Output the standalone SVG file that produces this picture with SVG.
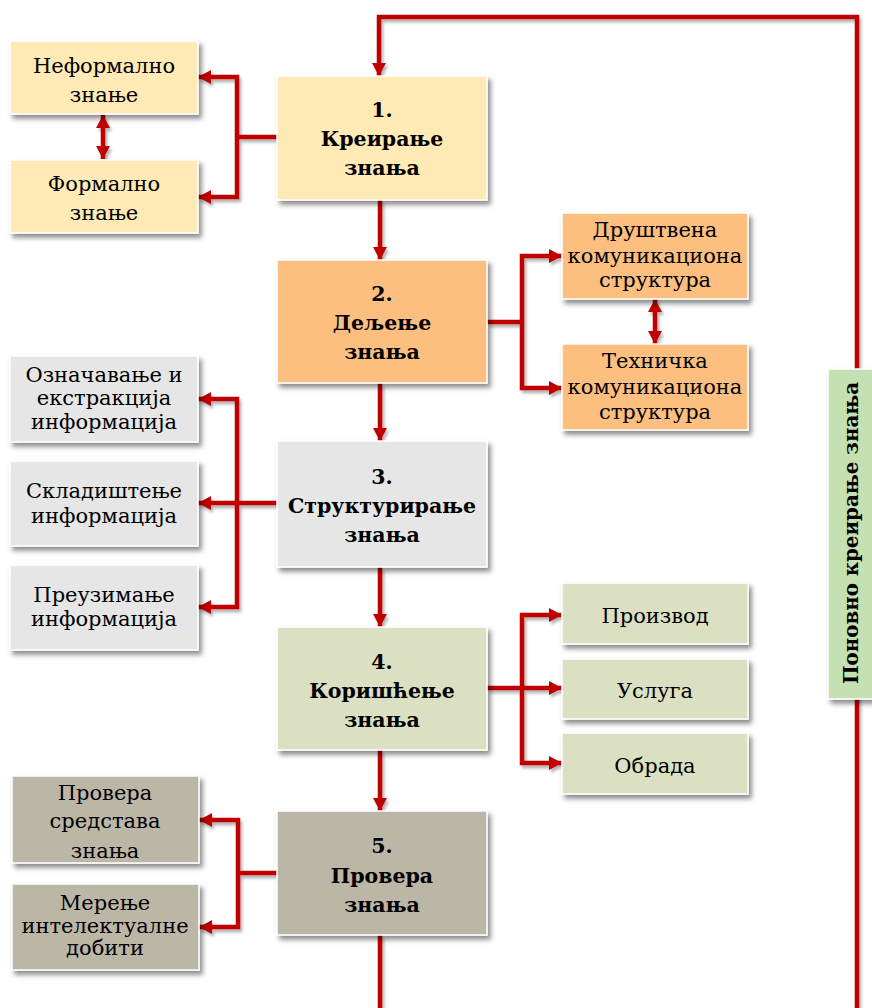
<svg xmlns="http://www.w3.org/2000/svg" width="872" height="1008" viewBox="0 0 872 1008">
  <defs>
    <filter id="sh" x="-10%" y="-10%" width="130%" height="130%">
      <feDropShadow dx="3" dy="4" stdDeviation="2.5" flood-color="#000" flood-opacity="0.45"/>
    </filter>
    <filter id="lsh" x="-10%" y="-10%" width="130%" height="130%">
      <feDropShadow dx="2" dy="3" stdDeviation="1.5" flood-color="#000" flood-opacity="0.3"/>
    </filter>
    <marker id="ah" markerUnits="userSpaceOnUse" markerWidth="14" markerHeight="14" refX="13" refY="7" orient="auto-start-reverse">
      <path d="M0,0 L13,7 L0,14 Z" fill="#C00000"/>
    </marker>
    <style>
      .box { stroke: #ffffff; stroke-width: 1.5; filter: url(#sh); }
      .y { fill: #FFEAB5; }
      .o { fill: #FDBF80; }
      .g { fill: #E6E6E6; }
      .l { fill: #DCE0C3; }
      .k { fill: #BCB6A7; }
      .s { fill: #C5E0B3; }
      .c { fill: none; stroke: #C00000; stroke-width: 4.5; }
      .a { marker-end: url(#ah); }
      .aa { marker-start: url(#ah); marker-end: url(#ah); }
      text { font-family: "DejaVu Serif", "Liberation Serif", serif; font-size: 21px; text-anchor: middle; fill: #000; }
      .b { font-weight: bold; font-size: 20.5px; }
    </style>
  </defs>

  <!-- connectors -->
  <g id="connectors" filter="url(#lsh)">
    <!-- feedback loop back to step 1 -->
    <path class="c a" d="M380,935 V1014 H857 V17 H379 V76"/>
    <!-- main chain -->
    <path class="c a" d="M380,200 V260"/>
    <path class="c a" d="M380,383 V441"/>
    <path class="c a" d="M380,567 V627"/>
    <path class="c a" d="M380,750 V811"/>
    <!-- step 1 branches -->
    <path class="c" d="M277,137 H237"/>
    <path class="c aa" d="M198,77 H237 V197 H198"/>
    <path class="c aa" d="M103,115 V159"/>
    <!-- step 2 branches -->
    <path class="c" d="M487,322 H522"/>
    <path class="c aa" d="M562,256 H522 V388 H562"/>
    <path class="c aa" d="M655,299 V344"/>
    <!-- step 3 branches -->
    <path class="c a" d="M277,503 H198"/>
    <path class="c aa" d="M198,399 H237 V607 H198"/>
    <!-- step 4 branches -->
    <path class="c a" d="M487,688 H562"/>
    <path class="c aa" d="M562,615 H522 V763 H562"/>
    <!-- step 5 branches -->
    <path class="c" d="M277,873 H238"/>
    <path class="c aa" d="M199,820 H238 V927 H199"/>
  </g>

  <!-- step 1 -->
  <g id="step1">
    <rect class="box y" x="277" y="76" width="210" height="124"/>
    <text class="b" x="382" y="117">1.</text>
    <text class="b" x="382" y="146">Креирање</text>
    <text class="b" x="382" y="175">знања</text>
  </g>
  <g id="informal">
    <rect class="box y" x="10" y="41" width="188" height="73"/>
    <text x="104" y="73">Неформално</text>
    <text x="104" y="102">знање</text>
  </g>
  <g id="formal">
    <rect class="box y" x="10" y="160" width="188" height="73"/>
    <text x="104" y="191">Формално</text>
    <text x="104" y="220">знање</text>
  </g>

  <!-- step 2 -->
  <g id="step2">
    <rect class="box o" x="277" y="260" width="210" height="123"/>
    <text class="b" x="382" y="301">2.</text>
    <text class="b" x="382" y="330">Дељење</text>
    <text class="b" x="382" y="359">знања</text>
  </g>
  <g id="social">
    <rect class="box o" x="562" y="213" width="186" height="86"/>
    <text x="655" y="237">Друштвена</text>
    <text x="655" y="263">комуникациона</text>
    <text x="655" y="287">структура</text>
  </g>
  <g id="technical">
    <rect class="box o" x="562" y="344" width="186" height="86"/>
    <text x="655" y="368">Техничка</text>
    <text x="655" y="394">комуникациона</text>
    <text x="655" y="419">структура</text>
  </g>

  <!-- step 3 -->
  <g id="step3">
    <rect class="box g" x="277" y="441" width="210" height="126"/>
    <text class="b" x="382" y="484">3.</text>
    <text class="b" x="382" y="513">Структурирање</text>
    <text class="b" x="382" y="542">знања</text>
  </g>
  <g id="tagging">
    <rect class="box g" x="10" y="356" width="188" height="86"/>
    <text x="104" y="382">Означавање и</text>
    <text x="104" y="405">екстракција</text>
    <text x="104" y="429">информација</text>
  </g>
  <g id="storage">
    <rect class="box g" x="10" y="461" width="188" height="85"/>
    <text x="104" y="498">Складиштење</text>
    <text x="104" y="523">информација</text>
  </g>
  <g id="retrieval">
    <rect class="box g" x="10" y="565" width="188" height="85"/>
    <text x="104" y="602">Преузимање</text>
    <text x="104" y="626">информација</text>
  </g>

  <!-- step 4 -->
  <g id="step4">
    <rect class="box l" x="277" y="627" width="210" height="123"/>
    <text class="b" x="382" y="669">4.</text>
    <text class="b" x="382" y="698">Коришћење</text>
    <text class="b" x="382" y="727">знања</text>
  </g>
  <g id="product">
    <rect class="box l" x="562" y="583" width="186" height="61"/>
    <text x="655" y="623">Производ</text>
  </g>
  <g id="service">
    <rect class="box l" x="562" y="659" width="186" height="60"/>
    <text x="655" y="698">Услуга</text>
  </g>
  <g id="processing">
    <rect class="box l" x="562" y="733" width="186" height="61"/>
    <text x="655" y="773">Обрада</text>
  </g>

  <!-- step 5 -->
  <g id="step5">
    <rect class="box k" x="277" y="811" width="210" height="124"/>
    <text class="b" x="382" y="853">5.</text>
    <text class="b" x="382" y="883">Провера</text>
    <text class="b" x="382" y="912">знања</text>
  </g>
  <g id="assets">
    <rect class="box k" x="12" y="776" width="187" height="87"/>
    <text x="105" y="800">Провера</text>
    <text x="105" y="828">средстава</text>
    <text x="105" y="858">знања</text>
  </g>
  <g id="measure">
    <rect class="box k" x="12" y="884" width="187" height="86"/>
    <text x="105" y="910">Мерење</text>
    <text x="105" y="933">интелектуалне</text>
    <text x="105" y="955">добити</text>
  </g>

  <!-- feedback label -->
  <g id="recreate">
    <rect class="box s" x="828" y="369" width="46" height="330"/>
    <text class="b" transform="translate(858,533) rotate(-90)" style="font-size:19.8px">Поновно креирање знања</text>
  </g>
</svg>
